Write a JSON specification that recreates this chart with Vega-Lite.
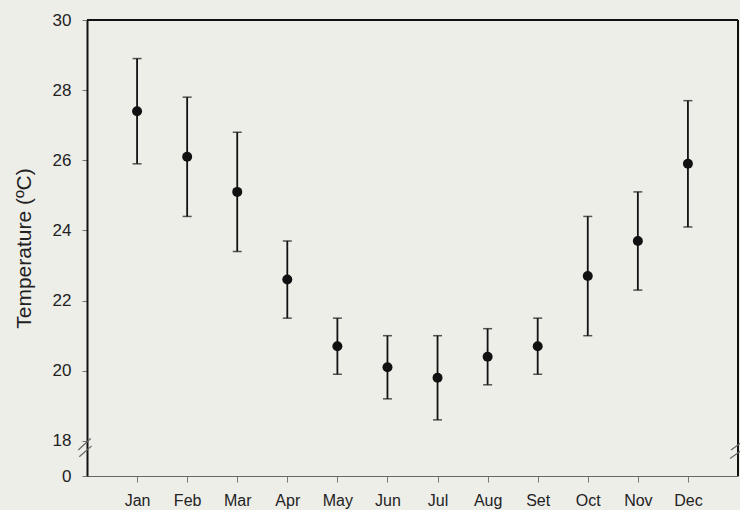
{
  "$schema": "https://vega.github.io/schema/vega-lite/v6.json",
  "autosize": "none",
  "width": 651,
  "height": 456,
  "padding": {"left": 87, "top": 20, "right": 2, "bottom": 34},
  "background": "#eeeee9",
  "config": {
    "view": {"stroke": null},
    "font": "Liberation Sans",
    "axis": {"labelFont": "Liberation Sans", "titleFont": "Liberation Sans", "labelColor": "#222", "titleColor": "#222", "grid": false}
  },
  "data": {
    "values": [
      {"m": 1, "month": "Jan", "mean": 27.4, "lo": 25.9, "hi": 28.9},
      {"m": 2, "month": "Feb", "mean": 26.1, "lo": 24.4, "hi": 27.8},
      {"m": 3, "month": "Mar", "mean": 25.1, "lo": 23.4, "hi": 26.8},
      {"m": 4, "month": "Apr", "mean": 22.6, "lo": 21.5, "hi": 23.7},
      {"m": 5, "month": "May", "mean": 20.7, "lo": 19.9, "hi": 21.5},
      {"m": 6, "month": "Jun", "mean": 20.1, "lo": 19.2, "hi": 21.0},
      {"m": 7, "month": "Jul", "mean": 19.8, "lo": 18.6, "hi": 21.0},
      {"m": 8, "month": "Aug", "mean": 20.4, "lo": 19.6, "hi": 21.2},
      {"m": 9, "month": "Set", "mean": 20.7, "lo": 19.9, "hi": 21.5},
      {"m": 10, "month": "Oct", "mean": 22.7, "lo": 21.0, "hi": 24.4},
      {"m": 11, "month": "Nov", "mean": 23.7, "lo": 22.3, "hi": 25.1},
      {"m": 12, "month": "Dec", "mean": 25.9, "lo": 24.1, "hi": 27.7}
    ]
  },
  "layer": [
    {
      "mark": {"type": "rule", "color": "#111", "strokeWidth": 2},
      "encoding": {"y": {"datum": 30, "type": "quantitative"}}
    },
    {
      "mark": {"type": "rule", "color": "#111", "strokeWidth": 2},
      "encoding": {"x": {"datum": 13, "type": "quantitative"}}
    },
    {
      "mark": {"type": "errorbar", "ticks": {"size": 9, "color": "#111", "thickness": 1.5}, "rule": {"color": "#111", "strokeWidth": 1.8}},
      "encoding": {
        "x": {
          "field": "m", "type": "quantitative",
          "scale": {"domain": [0, 13], "nice": false, "zero": false},
          "axis": {
            "title": null,
            "values": [1,2,3,4,5,6,7,8,9,10,11,12],
            "labelExpr": "['','Jan','Feb','Mar','Apr','May','Jun','Jul','Aug','Set','Oct','Nov','Dec'][datum.value]",
            "labelFontSize": 16,
            "labelPadding": 10,
            "tickSize": 6,
            "tickColor": "#777",
            "domainColor": "#666",
            "domainWidth": 1.2
          }
        },
        "y": {
          "field": "lo", "type": "quantitative",
          "scale": {"domain": [17, 30], "nice": false, "zero": false},
          "axis": {
            "title": "Temperature (ºC)",
            "titleFontSize": 21,
            "titleFontWeight": "normal",
            "titlePadding": 18,
            "values": [17, 18, 20, 22, 24, 26, 28, 30],
            "labelExpr": "datum.value == 17 ? '0' : datum.label",
            "labelFontSize": 17,
            "labelPadding": 11,
            "tickSize": 5,
            "tickColor": "#777",
            "domainColor": "#111",
            "domainWidth": 2
          }
        },
        "y2": {"field": "hi"}
      }
    },
    {
      "mark": {"type": "circle", "color": "#111", "opacity": 1, "size": 100},
      "encoding": {
        "x": {"field": "m", "type": "quantitative"},
        "y": {"field": "mean", "type": "quantitative"}
      }
    },
    {
      "data": {"values": [
        {"x": -0.174, "y": 17.74, "x2": 0.074, "y2": 18.07},
        {"x": -0.154, "y": 17.55, "x2": 0.094, "y2": 17.86},
        {"x": 12.86, "y": 17.74, "x2": 13.1, "y2": 17.99},
        {"x": 12.84, "y": 17.5, "x2": 13.1, "y2": 17.76}
      ]},
      "mark": {"type": "rule", "color": "#666", "strokeWidth": 1.2, "clip": false},
      "encoding": {
        "x": {"field": "x", "type": "quantitative"},
        "x2": {"field": "x2"},
        "y": {"field": "y", "type": "quantitative"},
        "y2": {"field": "y2"}
      }
    }
  ]
}
